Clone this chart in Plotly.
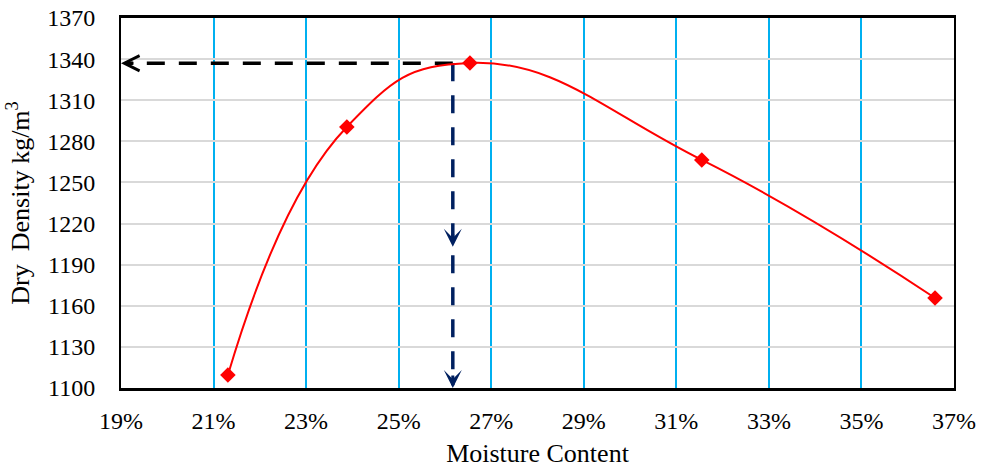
import plotly.graph_objects as go

# Data
moisture = [0.2131, 0.2388, 0.2654, 0.3155, 0.3659]
density = [1109.5, 1290.5, 1337.2, 1266.4, 1165.7]
opt_moisture = 0.2617
max_density = 1337.0
mid_arrow_density = 1203.0
x_min, x_max = 0.19, 0.37
y_min, y_max = 1100, 1370

font_family = "Liberation Serif, Times New Roman, serif"

fig = go.Figure()

# horizontal dashed guide line (black)
fig.add_trace(go.Scatter(
    x=[opt_moisture, x_min + 0.001], y=[max_density, max_density],
    mode="lines", line=dict(color="black", width=3.5, dash="18px,14px"),
    hoverinfo="skip", showlegend=False))

# vertical dashed guide line (navy)
fig.add_trace(go.Scatter(
    x=[opt_moisture, opt_moisture], y=[max_density, y_min + 2],
    mode="lines", line=dict(color="#002060", width=3.5, dash="18px,14px"),
    hoverinfo="skip", showlegend=False))

# compaction curve
fig.add_trace(go.Scatter(
    x=moisture, y=density, mode="lines+markers",
    line=dict(color="#ff0000", width=2, shape="spline", smoothing=1.3),
    marker=dict(symbol="diamond", size=12, color="#ff0000"),
    showlegend=False))

# arrowheads
fig.add_annotation(x=x_min, y=max_density, ax=14, ay=0, xref="x", yref="y",
                   showarrow=True, arrowhead=5, arrowsize=1, arrowwidth=3,
                   arrowcolor="black", text="")
fig.add_annotation(x=opt_moisture, y=mid_arrow_density, ax=0, ay=-14, xref="x", yref="y",
                   showarrow=True, arrowhead=3, arrowsize=1, arrowwidth=3,
                   arrowcolor="#002060", text="")
fig.add_annotation(x=opt_moisture, y=y_min, ax=0, ay=-14, xref="x", yref="y",
                   showarrow=True, arrowhead=3, arrowsize=1, arrowwidth=3,
                   arrowcolor="#002060", text="")

fig.update_layout(
    width=981, height=471,
    margin=dict(l=121, r=27, t=18, b=83),
    paper_bgcolor="white", plot_bgcolor="white",
    font=dict(family=font_family, size=24, color="black"),
    xaxis=dict(
        range=[x_min, x_max], tickmode="linear", tick0=x_min, dtick=0.02,
        tickformat=".0%", showgrid=True, gridcolor="#00b0f0", gridwidth=1.5,
        showline=True, linecolor="black", linewidth=2.5, mirror=True,
        ticks="", zeroline=False, ticklabelstandoff=9, automargin=False,
        tickfont=dict(size=24),
        title=dict(text="Moisture Content", font=dict(size=26), standoff=12),
    ),
    yaxis=dict(
        range=[y_min, y_max], tickmode="linear", tick0=y_min, dtick=30,
        showgrid=True, gridcolor="#d9d9d9", gridwidth=1.5,
        showline=True, linecolor="black", linewidth=2, mirror=True,
        ticks="", zeroline=False, ticklabelstandoff=19, automargin=False,
        tickfont=dict(size=24),
        title=dict(text="Dry\u00a0\u00a0Density kg/m<sup>3</sup>", font=dict(size=26), standoff=10),
    ),
)

fig.write_html("out.html")
